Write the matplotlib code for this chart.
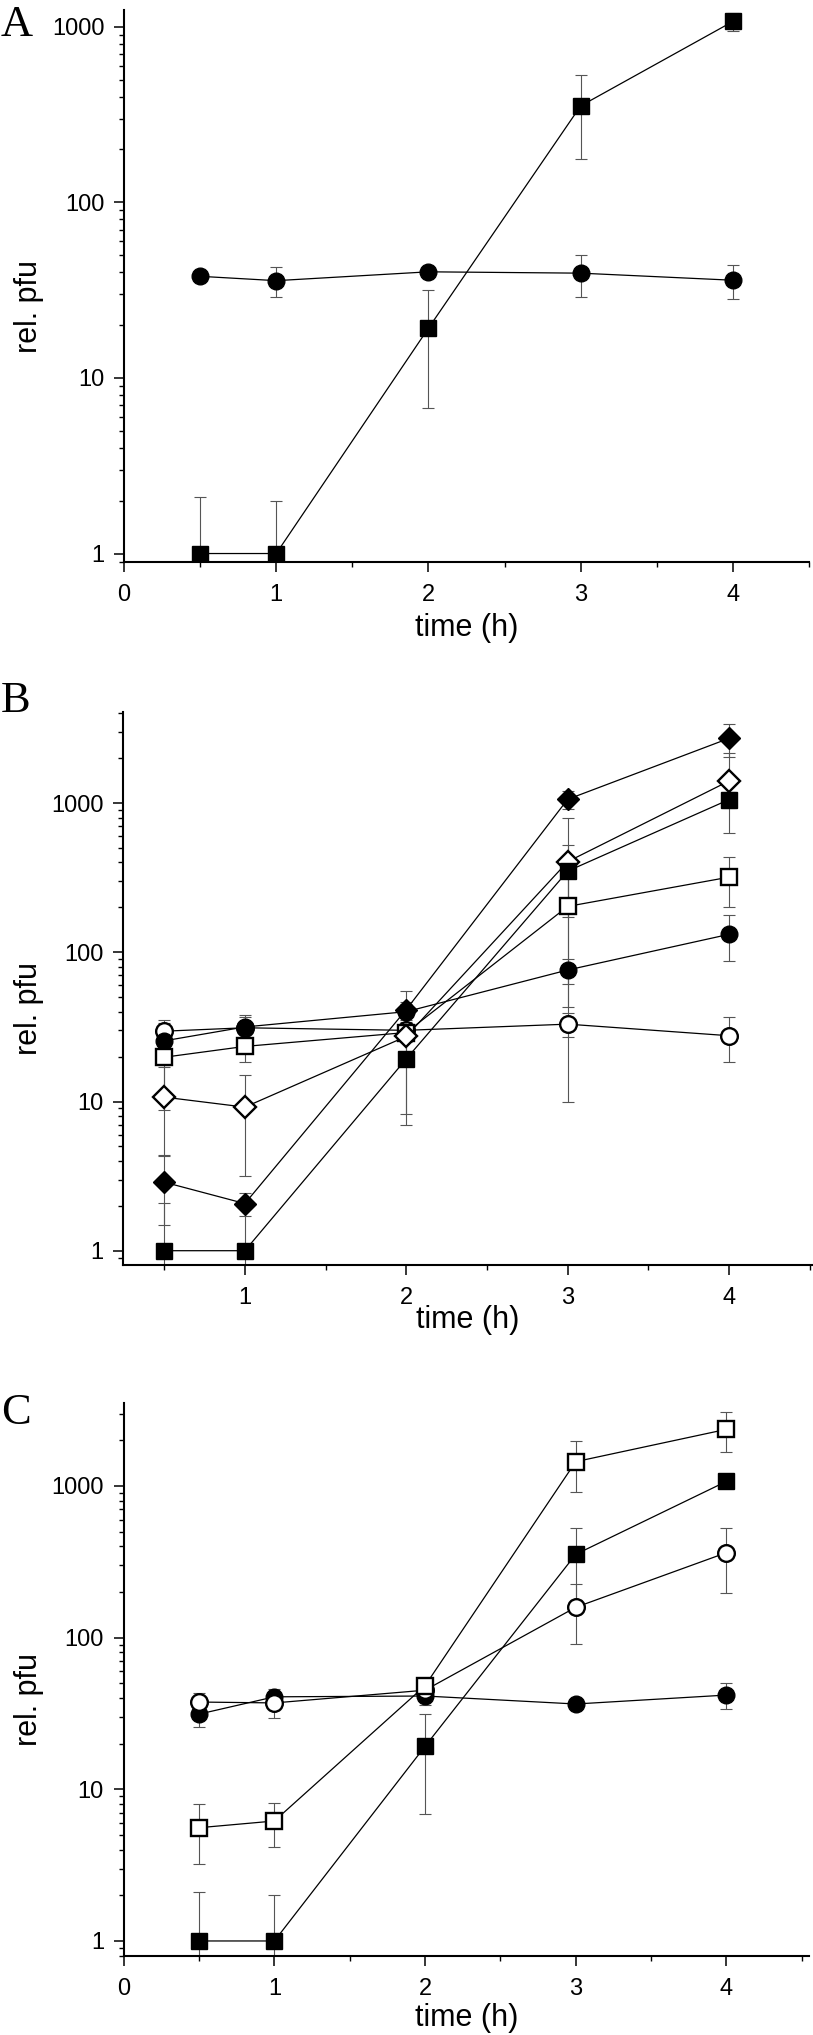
import numpy as np
import matplotlib
matplotlib.use("Agg")
import matplotlib.pyplot as plt
from matplotlib.ticker import MultipleLocator, LogLocator, NullFormatter

plt.rcParams['font.family'] = ['Liberation Sans', 'DejaVu Sans']

W, H = 813, 2035
DPI = 100

# time points (h)
t = [0.5, 1, 2, 3, 4]

# panel A
a_sq = [1, 1, 19.2, 354, 1071]
a_sq_sd = [1.1, 1.0, 12.5, 177, 128]
a_ci = [37.9, 35.8, 40.2, 39.5, 36.0]
a_ci_sd = [2, 7, 3, 10.5, 7.7]

# panel B
b_sq = [1, 1, 19.3, 350, 1056]
b_sq_sd = [1.1, 1.0, 12.3, 177, 128]
b_di = [2.88, 2.07, 41.3, 1060, 2718]
b_di_sd = [1.4, 0.35, 13.4, 145, 670]
b_odi = [10.7, 9.17, 27.3, 405, 1407]
b_odi_sd = [6.35, 6.0, 19.0, 395, 775]
b_osq = [19.8, 23.4, 29.0, 203, 319]
b_osq_sd = [11, 5, 4, 160, 117]
b_ci = [25.5, 31.6, 40.0, 76.1, 132]
b_ci_sd = [8, 5, 5, 14.6, 45]
b_oci = [29.6, 31.2, 30.0, 33.0, 27.6]
b_oci_sd = [5.5, 7, 4, 6, 9.2]

# panel C
c_sq = [1, 1, 19.2, 354, 1071]
c_sq_sd = [1.1, 1.0, 12.3, 176, 100]
c_osq = [5.58, 6.18, 48.2, 1445, 2361]
c_osq_sd = [2.37, 2.0, 5, 540, 694]
c_oci = [37.6, 37.1, 45.0, 158.4, 363]
c_oci_sd = [5.3, 7.6, 5, 67.6, 166]
c_ci = [31.3, 40.7, 41.2, 36.5, 41.8]
c_ci_sd = [5.5, 5, 5, 3, 8.2]

yticks = [1, 10, 100, 1000]
ytick_labels = ['1', '10', '100', '1000']

fig = plt.figure(figsize=(W / DPI, H / DPI), dpi=DPI)


def make_axes(left, right, top, bottom):
    return fig.add_axes([left / W, 1 - bottom / H, (right - left) / W, (bottom - top) / H])


def series(ax, y, sd, marker, filled, ms):
    y = np.array(y, dtype=float)
    sd = np.array(sd, dtype=float)
    lo = np.minimum(sd, y * 0.99)
    ax.errorbar(t, y, yerr=[lo, sd], fmt='none', ecolor='#555555', elinewidth=0.8,
                capsize=4, capthick=0.8, zorder=2)
    ax.plot(t, y, '-', color='black', lw=0.9, zorder=2.5)
    ax.plot(t, y, linestyle='none', marker=marker, ms=ms,
            mfc='black' if filled else 'white', mec='black',
            mew=1.0 if filled else 1.7, zorder=3)


def style(ax, xlim, ylim, xticks, top, bottom, label_y):
    ax.set_yscale('log')
    ax.set_xlim(*xlim)
    ax.set_ylim(*ylim)
    ax.spines['top'].set_visible(False)
    ax.spines['right'].set_visible(False)
    for s in ['left', 'bottom']:
        ax.spines[s].set_linewidth(1.5)
    ax.set_xticks(xticks)
    ax.set_xticklabels([str(v) for v in xticks])
    ax.xaxis.set_minor_locator(MultipleLocator(0.5))
    ax.set_yticks(yticks)
    ax.set_yticklabels(ytick_labels)
    ax.yaxis.set_minor_locator(LogLocator(base=10, subs=np.arange(2, 10)))
    ax.yaxis.set_minor_formatter(NullFormatter())
    ax.tick_params(which='major', direction='out', length=7.2, width=1.1, labelsize=17)
    ax.tick_params(which='minor', direction='out', length=3.6, width=1.0)
    ax.tick_params(axis='x', which='major', pad=8.5)
    ax.tick_params(axis='y', which='major', pad=7)
    ax.set_xlabel('time (h)', fontsize=22, va='center')
    ax.set_ylabel('rel. pfu', fontsize=22, va='center')
    hpx = bottom - top
    ax.xaxis.set_label_coords(0.5, -(label_y - bottom) / hpx)
    bb = ax.get_position()
    lx = (29 / W - bb.x0) / bb.width
    ax.yaxis.set_label_coords(lx, 1 - ((top + bottom) / 2 + 20 - top) / hpx)


# panel A
axA = make_axes(124, 809, 10, 562.5)
series(axA, a_ci, a_ci_sd, 'o', True, 12)
series(axA, a_sq, a_sq_sd, 's', True, 11.3)
style(axA, (0, 4.5), (0.889, 1245), [0, 1, 2, 3, 4], 10, 562.5, 628)

# panel B
axB = make_axes(123, 813, 712, 1265)
series(axB, b_oci, b_oci_sd, 'o', False, 12)
series(axB, b_ci, b_ci_sd, 'o', True, 12)
series(axB, b_osq, b_osq_sd, 's', False, 11)
series(axB, b_odi, b_odi_sd, 'D', False, 11)
series(axB, b_sq, b_sq_sd, 's', True, 11.3)
series(axB, b_di, b_di_sd, 'D', True, 11)
style(axB, (0.245, 4.52), (0.802, 4080), [1, 2, 3, 4], 712, 1265, 1320)

# panel C
axC = make_axes(123.7, 809, 1403.3, 1956)
series(axC, c_ci, c_ci_sd, 'o', True, 12)
series(axC, c_oci, c_oci_sd, 'o', False, 12)
series(axC, c_sq, c_sq_sd, 's', True, 11.3)
series(axC, c_osq, c_osq_sd, 's', False, 11)
style(axC, (0, 4.548), (0.796, 3505), [0, 1, 2, 3, 4], 1403.3, 1956, 2018)

# panel letters
for letter, base in [('A', 36), ('B', 712), ('C', 1424)]:
    fig.text(1 / W, 1 - base / H, letter, fontsize=32, family=['Liberation Serif', 'DejaVu Serif'],
             ha='left', va='baseline')

fig.savefig('out.png', dpi=DPI)
